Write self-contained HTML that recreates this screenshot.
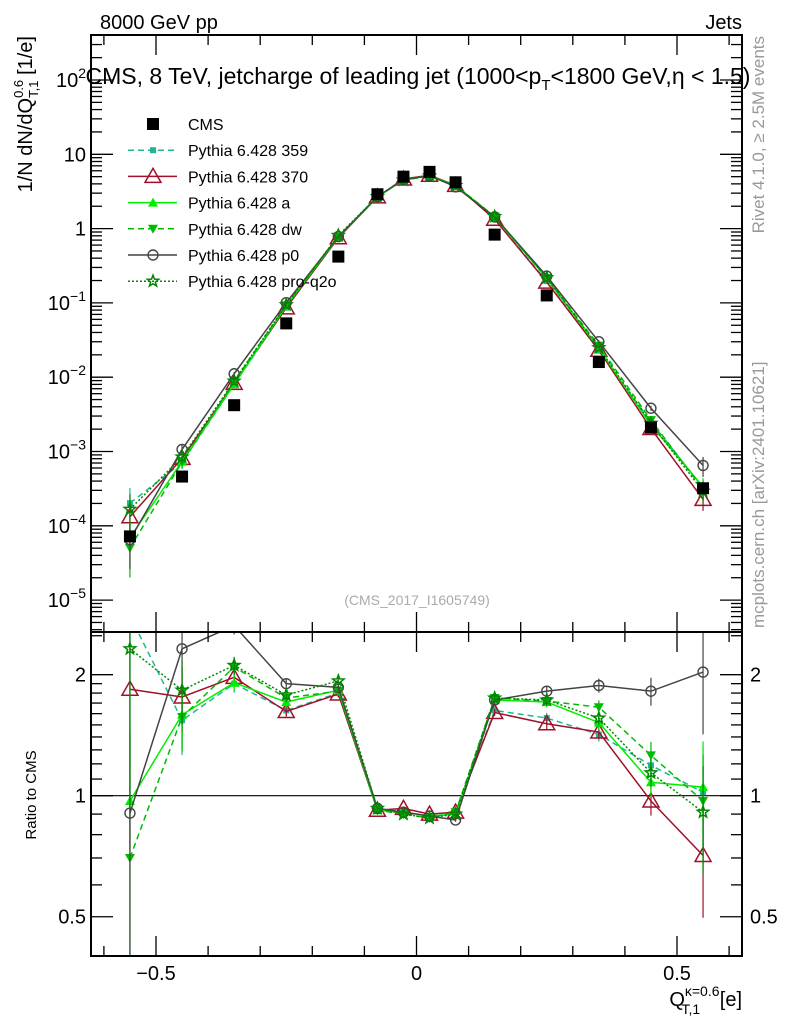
<!DOCTYPE html>
<html><head><meta charset="utf-8"><style>
body{margin:0;background:#fff}
svg{display:block;font-family:"Liberation Sans",sans-serif}
</style></head><body>
<svg id="c" width="786" height="1024" viewBox="0 0 786 1024">
<text x="100" y="29" font-size="20">8000 GeV pp</text>
<text x="742" y="29" font-size="20" text-anchor="end">Jets</text>
<text x="418" y="84" font-size="23" text-anchor="middle">CMS, 8 TeV, jetcharge of leading jet (1000&lt;p<tspan font-size="15" dy="6">T</tspan><tspan dy="-6">&lt;1800 GeV,η &lt; 1.5)</tspan></text>
<text x="417" y="605" font-size="14" fill="#aaa" text-anchor="middle">(CMS_2017_I1605749)</text>
<text transform="translate(764,36) rotate(-90)" font-size="17" fill="#999" text-anchor="end">Rivet 4.1.0, ≥ 2.5M events</text>
<text transform="translate(764,628) rotate(-90)" font-size="17" fill="#999">mcplots.cern.ch [arXiv:2401.10621]</text>
<text transform="translate(32,36) rotate(-90)" font-size="20" text-anchor="end">1/N dN/dQ<tspan font-size="13" dy="-9">0.6</tspan><tspan font-size="13" dy="15" dx="-18">T,1</tspan><tspan dy="-6"> [1/e]</tspan></text>
<text transform="translate(36,795) rotate(-90)" font-size="15" text-anchor="middle">Ratio to CMS</text>
<text x="742" y="1006" font-size="20" text-anchor="end">Q<tspan font-size="14" dy="-10">κ=0.6</tspan><tspan font-size="14" dy="18" dx="-38">T,1</tspan><tspan dy="-8" dx="14"> [e]</tspan></text>
<g id="main"></g><g id="ratio"></g><g id="legend"></g>
</svg>
<script>
const centers=[-0.55,-0.45,-0.35,-0.25,-0.15,-0.075,-0.025,0.025,0.075,0.15,0.25,0.35,0.45,0.55];
const cmsValues=[7.2e-5,4.6e-4,4.2e-3,0.053,0.42,2.9,5.0,5.8,4.2,0.83,0.126,0.016,0.0021,3.2e-4];
const ratio359=[2.8,1.54,1.90,1.63,1.80,0.92,0.91,0.89,0.90,1.63,1.56,1.42,1.19,1.02];
const ratio370=[1.84,1.76,1.97,1.62,1.79,0.92,0.93,0.90,0.91,1.61,1.51,1.44,0.97,0.71];
const ratioA=[0.97,1.59,1.91,1.71,1.83,0.92,0.91,0.89,0.90,1.73,1.71,1.52,1.08,1.05];
const ratioDW=[0.70,1.57,2.09,1.75,1.82,0.92,0.90,0.88,0.91,1.75,1.72,1.66,1.26,0.97];
const ratioP0=[0.905,2.32,2.65,1.90,1.86,0.93,0.91,0.89,0.87,1.73,1.82,1.88,1.82,2.03];
const ratioQ2O=[2.32,1.83,2.11,1.78,1.93,0.93,0.90,0.88,0.90,1.75,1.73,1.56,1.14,0.91];
const relErr=[0.6,0.18,0.05,0.03,0.02,0.01,0.01,0.01,0.01,0.02,0.03,0.04,0.08,0.3];
const xTicks=[-0.5,0,0.5];
const mainTicks=[2,1,0,-1,-2,-3,-4,-5];
const ratioTicks=[0.5,1,2];

const NS="http://www.w3.org/2000/svg";
const L=91,R=742,T=35,MB=632,RB=956;
const xs=v=>416.5+v*521;
const ym=v=>80+(2-Math.log10(v))*74.3;
const yr=v=>795.7-Math.log10(v)*402;
function mk(p,tag,at){const e=document.createElementNS(NS,tag);for(const k in at)e.setAttribute(k,at[k]);p.appendChild(e);return e;}
const main=document.getElementById('main'),rat=document.getElementById('ratio'),leg=document.getElementById('legend');

const series=[
 {name:'Pythia 6.428 359',key:'359',r:ratio359,col:'#1db892',dash:'6,4',m:'sq'},
 {name:'Pythia 6.428 370',key:'370',r:ratio370,col:'#a0102a',dash:'',m:'tri'},
 {name:'Pythia 6.428 a',key:'a',r:ratioA,col:'#00ee00',dash:'',m:'trif'},
 {name:'Pythia 6.428 dw',key:'dw',r:ratioDW,col:'#00bb00',dash:'6,4',m:'tdn'},
 {name:'Pythia 6.428 p0',key:'p0',r:ratioP0,col:'#444',dash:'',m:'circ'},
 {name:'Pythia 6.428 pro-q2o',key:'pro-q2o',r:ratioQ2O,col:'#008800',dash:'2,2',m:'star'}];

function marker(g,m,x,y,col){
 if(m==='sq')return mk(g,'rect',{x:x-3,y:y-3,width:6,height:6,fill:col});
 if(m==='bsq')return mk(g,'rect',{x:x-6,y:y-6,width:12,height:12,fill:'#000'});
 if(m==='tri')return mk(g,'polygon',{points:`${x},${y-8} ${x-8},${y+6} ${x+8},${y+6}`,fill:'none',stroke:col,'stroke-width':1.5});
 if(m==='trif')return mk(g,'polygon',{points:`${x},${y-5} ${x-5},${y+4} ${x+5},${y+4}`,fill:col});
 if(m==='tdn')return mk(g,'polygon',{points:`${x},${y+5} ${x-5},${y-4} ${x+5},${y-4}`,fill:col});
 if(m==='circ')return mk(g,'circle',{cx:x,cy:y,r:5,fill:'none',stroke:col,'stroke-width':1.4});
 let p='';for(let i=0;i<10;i++){const a=-Math.PI/2+i*Math.PI/5,rr=i%2?2.5:6;p+=`${x+rr*Math.cos(a)},${y+rr*Math.sin(a)} `;}
 return mk(g,'polygon',{points:p,fill:'none',stroke:col,'stroke-width':1.5});
}

const defs=mk(document.getElementById('c'),'defs',{});
const c1=mk(defs,'clipPath',{id:'cm'});mk(c1,'rect',{x:L,y:T,width:R-L,height:MB-T});
const c2=mk(defs,'clipPath',{id:'cr'});mk(c2,'rect',{x:L,y:MB,width:R-L,height:RB-MB});
const gm=mk(main,'g',{'clip-path':'url(#cm)'}),gr=mk(rat,'g',{'clip-path':'url(#cr)'});
mk(gr,'line',{x1:L,x2:R,y1:yr(1),y2:yr(1),stroke:'#000','stroke-width':1.2});

series.forEach(s=>{
 const g1=mk(gm,'g',{});
 
 
 const g2=mk(gr,'g',{});
 
 
 const pm=centers.map((c,i)=>`${xs(c)},${ym(cmsValues[i]*s.r[i])}`).join(' ');
 const pr=centers.map((c,i)=>`${xs(c)},${yr(s.r[i])}`).join(' ');
 mk(g1,'polyline',{points:pm,fill:'none',stroke:s.col,'stroke-width':1.5,'stroke-dasharray':s.dash});
 mk(g2,'polyline',{points:pr,fill:'none',stroke:s.col,'stroke-width':1.5,'stroke-dasharray':s.dash});
 centers.forEach((c,i)=>{
  const e=relErr[i]*s.r[i];
  const m=mk(g1,'g',{});
  
  
  const v=cmsValues[i]*s.r[i];
  mk(m,'line',{x1:xs(c),x2:xs(c),y1:ym(v*(1+relErr[i])),y2:ym(Math.max(v*(1-relErr[i]),1e-9)),stroke:s.col,'stroke-width':1.2});
  marker(m,s.m,xs(c),ym(v),s.col);
  const n=mk(g2,'g',{});
  
  
  mk(n,'line',{x1:xs(c),x2:xs(c),y1:yr(s.r[i]+e),y2:yr(Math.max(s.r[i]-e,0.05)),stroke:s.col,'stroke-width':1.2});
  marker(n,s.m,xs(c),yr(s.r[i]),s.col);
 });
});
centers.forEach((c,i)=>{
 const p=marker(gm,'bsq',xs(c),ym(cmsValues[i]),'#000');
 
 
});

[[T,MB],[MB,RB]].forEach(([a,b])=>mk(document.getElementById('c'),'rect',{x:L,y:a,width:R-L,height:b-a,fill:'none',stroke:'#000','stroke-width':2}));
const ax=mk(document.getElementById('c'),'g',{stroke:'#000','stroke-width':1.3});
for(let k=-6;k<=6;k++){const v=k/10,x=xs(v),maj=k%5===0,l=maj?20:10;
 [[T,1],[MB,-1],[MB,1],[RB,-1]].forEach(([y,d])=>mk(ax,'line',{x1:x,x2:x,y1:y,y2:y+d*l}));}
xTicks.forEach(v=>{const t=mk(document.getElementById('c'),'text',{x:xs(v),y:980,'font-size':20,'text-anchor':'middle'});t.textContent=v===0?'0':(v<0?'−':'')+Math.abs(v);
 
 });
for(let d=-6;d<=2;d++)for(let m=1;m<=9;m++){const v=m*Math.pow(10,d),y=ym(v);if(y<T||y>MB)continue;const l=m===1?22:11;
 mk(ax,'line',{x1:L,x2:L+l,y1:y,y2:y});mk(ax,'line',{x1:R,x2:R-l,y1:y,y2:y});}
mainTicks.forEach(e=>{const t=mk(document.getElementById('c'),'text',{x:86,y:ym(Math.pow(10,e))+7,'font-size':20,'text-anchor':'end'});
 
 
 if(e===0)t.textContent='1';else if(e===1)t.textContent='10';else{t.textContent='10';const s=mk(t,'tspan',{dy:-9,'font-size':14});s.textContent=String(e).replace('-','−');}});
const rt=[0.4,0.5,0.6,0.7,0.8,0.9,1,1.1,1.2,1.3,1.4,1.5,1.6,1.7,1.8,1.9,2,2.5];
rt.forEach(v=>{const y=yr(v);if(y<MB||y>RB)return;const l=(v===0.5||v===1||v===2)?22:11;
 mk(ax,'line',{x1:L,x2:L+l,y1:y,y2:y});mk(ax,'line',{x1:R,x2:R-l,y1:y,y2:y});});
ratioTicks.forEach(v=>{[[86,'end'],[750,'start']].forEach(([x,a])=>{const t=mk(document.getElementById('c'),'text',{x:x,y:yr(v)+7,'font-size':20,'text-anchor':a});t.textContent=String(v);
 
 });});

const rows=[{name:'CMS',col:'#000',m:'bsq',dash:null}].concat(series);
rows.forEach((s,i)=>{const y=124+i*26.2;const g=mk(leg,'g',{});
 
 
 if(s.dash!==null)mk(g,'line',{x1:128,x2:177,y1:y,y2:y,stroke:s.col,'stroke-width':1.5,'stroke-dasharray':s.dash});
 if(s.m==='bsq')mk(g,'rect',{x:147,y:y-6,width:12,height:12,fill:'#000'});else marker(g,s.m,153,y,s.col);
 const t=mk(g,'text',{x:188,y:y+6,'font-size':16});t.textContent=s.name;});
</script>
</body></html>
